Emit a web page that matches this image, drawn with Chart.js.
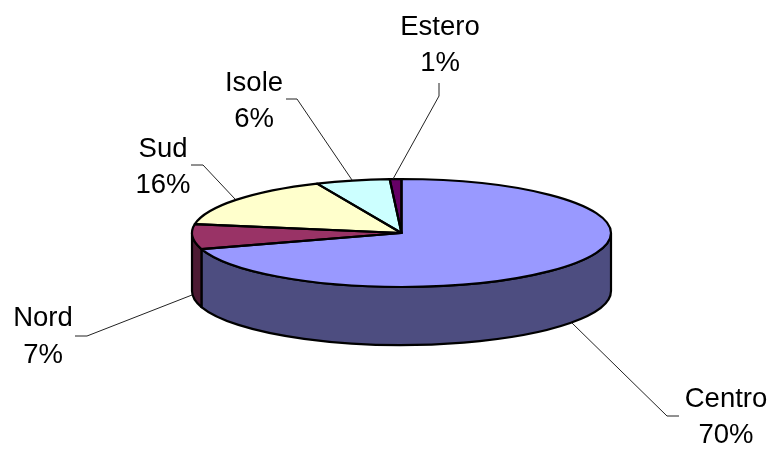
<!DOCTYPE html>
<html>
<head>
<meta charset="utf-8">
<title>Pie</title>
<style>
html, body { margin: 0; padding: 0; background: #fff; }
canvas { display: block; }
</style>
<script src="https://cdn.jsdelivr.net/npm/chart.js@4/dist/chart.umd.min.js"></script>
</head>
<body>
<canvas id="myChart" width="779" height="461"></canvas>
<script>
const categories = ['Centro', 'Nord', 'Sud', 'Isole', 'Estero'];
const values = [70.2, 7.4, 15.8, 5.7, 0.9];
const topColors = ['#9999FF', '#993366', '#FFFFCC', '#CCFFFF', '#660066'];
const sideColors = ['#4D4D80', '#4D1A33', '#80805F', '#668080', '#330033'];

// label centre x, the two baselines, then the leader line
const labelLayout = [
  { x: 726, y: [407, 443], line: [[679, 416], [667, 416], [572, 323]] },
  { x: 43, y: [326, 363], line: [[75, 336], [87, 336], [192, 295]] },
  { x: 163, y: [157, 193], line: [[191, 165], [203, 165], [235, 199]] },
  { x: 254, y: [91, 127], line: [[286, 99], [297, 99], [352, 180]] },
  { x: 440, y: [35, 71], line: [[439, 83], [439, 96], [393, 179]] }
];

const squash = 54 / 209.5;
const depth = 58;
const outline = 2.2;

// Chart.js only does flat pies, so tilt the arcs and add the wall here
const tiltPlugin = {
  id: 'tilt',
  beforeDatasetDraw(chart) {
    const ctx = chart.ctx;
    const arcs = chart.getDatasetMeta(0).data;
    const cx = arcs[0].x, cy = arcs[0].y, r = arcs[0].outerRadius;
    ctx.save();
    ctx.lineWidth = outline;
    ctx.strokeStyle = '#000';
    ctx.lineJoin = 'round';
    arcs.forEach((arc, i) => {
      const a1 = Math.max(arc.startAngle, 0);
      const a2 = Math.min(arc.endAngle, Math.PI);
      if (a2 <= a1) return;
      ctx.beginPath();
      ctx.ellipse(cx, cy, r, r * squash, 0, a1, a2);
      ctx.ellipse(cx, cy + depth, r, r * squash, 0, a2, a1, true);
      ctx.closePath();
      ctx.fillStyle = sideColors[i];
      ctx.fill();
      ctx.stroke();
    });
    ctx.restore();

    ctx.save();
    ctx.translate(cx, cy);
    ctx.scale(1, squash);
    ctx.translate(-cx, -cy);
  },
  afterDatasetDraw(chart) {
    const ctx = chart.ctx;
    ctx.restore();
    const arcs = chart.getDatasetMeta(0).data;
    ctx.save();
    ctx.lineWidth = outline;
    ctx.strokeStyle = '#000';
    ctx.lineJoin = 'round';
    arcs.forEach(arc => {
      ctx.beginPath();
      ctx.moveTo(arc.x, arc.y);
      ctx.ellipse(arc.x, arc.y, arc.outerRadius, arc.outerRadius * squash, 0, arc.startAngle, arc.endAngle);
      ctx.closePath();
      ctx.stroke();
    });
    ctx.restore();
  },
  afterDraw(chart) {
    const ctx = chart.ctx;
    const total = values.reduce((a, b) => a + b, 0);
    ctx.save();
    ctx.strokeStyle = '#222';
    ctx.lineWidth = 1;
    labelLayout.forEach(l => {
      ctx.beginPath();
      l.line.forEach((p, j) => j ? ctx.lineTo(p[0], p[1]) : ctx.moveTo(p[0], p[1]));
      ctx.stroke();
    });
    ctx.font = '27.5px "Liberation Sans"';
    ctx.fillStyle = '#000';
    ctx.textAlign = 'center';
    ctx.textBaseline = 'alphabetic';
    categories.forEach((name, i) => {
      const l = labelLayout[i];
      ctx.fillText(name, l.x, l.y[0]);
      ctx.fillText(Math.round(values[i] / total * 100) + '%', l.x, l.y[1]);
    });
    ctx.restore();
  }
};

const myChart = new Chart(document.getElementById('myChart').getContext('2d'), {
  type: 'pie',
  data: {
    labels: categories,
    datasets: [{
      data: values,
      backgroundColor: topColors,
      borderWidth: 0
    }]
  },
  options: {
    responsive: false,
    animation: false,
    devicePixelRatio: 1,
    layout: { padding: { left: 192, right: 168, top: 23.5, bottom: 18.5 } },
    plugins: {
      legend: { display: false },
      tooltip: { enabled: false }
    }
  },
  plugins: [tiltPlugin]
});
</script>
</body>
</html>
